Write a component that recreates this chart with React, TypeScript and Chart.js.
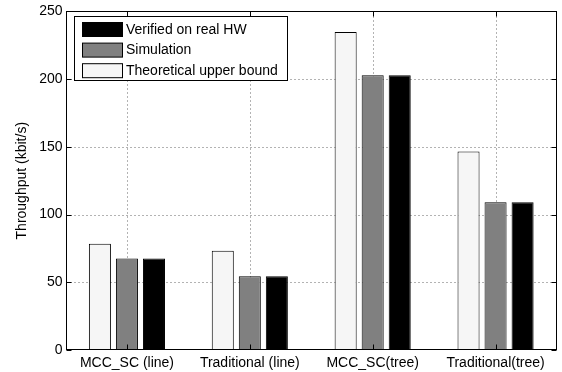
import React, { useEffect, useRef } from 'react';
import { Chart, registerables } from 'chart.js';

Chart.register(...registerables);

const categories = ['MCC_SC (line)', 'Traditional (line)', 'MCC_SC(tree)', 'Traditional(tree)'];
const theoreticalValues = [78.4, 73.3, 234.8, 146.6];
const simulationValues = [67.6, 54.4, 202.9, 109];
const verifiedValues = [67.6, 54.4, 202.9, 109];
const seriesLabels = ['Theoretical upper bound', 'Simulation', 'Verified on real HW'];
const yTickValues = [0, 50, 100, 150, 200, 250];
const yAxisTitle = 'Throughput (kbit/s)';

const FONT = '"Liberation Sans", Arial, Helvetica, sans-serif';

function edges(chart: any) {
  const { left, right, top, bottom } = chart.chartArea;
  return {
    L: Math.round(left) + 0.5,
    R: Math.round(right) - 0.5,
    T: Math.round(top) + 0.5,
    B: Math.round(bottom) - 0.5,
  };
}

const gridPlugin = {
  id: 'matlabGrid',
  beforeDatasetsDraw(chart: any) {
    const { ctx } = chart;
    const { L, R, T, B } = edges(chart);
    const ys = chart.scales.y;
    const xs = chart.scales.x;
    ctx.save();
    ctx.strokeStyle = 'rgba(0,0,0,0.6)';
    ctx.lineWidth = 1;
    ctx.setLineDash([1, 3]);
    ctx.beginPath();
    yTickValues.forEach((v) => {
      const py = Math.round(ys.getPixelForValue(v)) + 0.5;
      if (py <= T + 1 || py >= B - 1) return;
      ctx.moveTo(L, py); ctx.lineTo(R, py);
    });
    categories.forEach((_, i) => {
      const px = Math.round(xs.getPixelForValue(i)) + 0.5;
      ctx.moveTo(px, B); ctx.lineTo(px, T);
    });
    ctx.stroke();
    ctx.restore();
  },
};

const framePlugin = {
  id: 'matlabFrame',
  afterDatasetsDraw(chart: any) {
    const { ctx } = chart;
    const { L, R, T, B } = edges(chart);
    ctx.save();
    ctx.strokeStyle = '#000';
    ctx.lineWidth = 1;
    ctx.setLineDash([]);
    ctx.strokeRect(L, T, R - L, B - T);
    const tl = 5;
    const ys = chart.scales.y;
    const xs = chart.scales.x;
    ctx.beginPath();
    yTickValues.forEach((v) => {
      const py = Math.round(ys.getPixelForValue(v)) + 0.5;
      ctx.moveTo(L, py); ctx.lineTo(L + tl, py);
      ctx.moveTo(R, py); ctx.lineTo(R - tl, py);
    });
    categories.forEach((_, i) => {
      const px = Math.round(xs.getPixelForValue(i)) + 0.5;
      ctx.moveTo(px, B); ctx.lineTo(px, B - tl);
      ctx.moveTo(px, T); ctx.lineTo(px, T + tl);
    });
    ctx.stroke();

    // legend (reversed order, inside plot)
    const bx = 74.5, by = 16.5, bw = 213, bh = 64;
    ctx.fillStyle = '#fff';
    ctx.fillRect(bx, by, bw, bh);
    ctx.strokeRect(bx, by, bw, bh);
    const ds = chart.data.datasets.slice().reverse();
    ctx.font = '14px ' + FONT;
    ctx.textBaseline = 'middle';
    ctx.textAlign = 'left';
    ds.forEach((d: any, i: number) => {
      const sy = 22.5 + i * 20.6;
      ctx.fillStyle = d.backgroundColor;
      ctx.fillRect(82.5, sy, 40, 14);
      ctx.strokeStyle = '#000';
      ctx.strokeRect(82.5, sy, 40, 14);
      ctx.fillStyle = '#000';
      ctx.fillText(d.label, 126, sy + 7.5);
    });
    ctx.restore();
  },
};

export default function App() {
  const ref = useRef<HTMLCanvasElement | null>(null);
  useEffect(() => {
    if (!ref.current) return;
    const chart = new Chart(ref.current, {
      type: 'bar',
      data: {
        labels: categories,
        datasets: [
          { label: seriesLabels[0], data: theoreticalValues, backgroundColor: '#f6f6f6', borderColor: '#000', borderWidth: 1 },
          { label: seriesLabels[1], data: simulationValues, backgroundColor: '#808080', borderColor: '#000', borderWidth: 1 },
          { label: seriesLabels[2], data: verifiedValues, backgroundColor: '#000000', borderColor: '#000', borderWidth: 1 },
        ],
      },
      options: {
        responsive: false,
        animation: false,
        devicePixelRatio: 1,
        layout: { padding: { top: 10, right: 5, left: 0, bottom: 0 } },
        datasets: { bar: { categoryPercentage: 0.66, barPercentage: 0.815 } },
        plugins: { legend: { display: false }, tooltip: { enabled: false } },
        scales: {
          x: {
            offset: true,
            grid: { display: false, drawTicks: false },
            border: { display: false },
            ticks: { color: '#000', font: { family: FONT, size: 14 }, padding: 5, maxRotation: 0, autoSkip: false },
            afterFit(scale: any) { scale.height = 22; },
          },
          y: {
            min: 0,
            max: 250,
            afterBuildTicks(scale: any) { scale.ticks = yTickValues.map((v) => ({ value: v })); },
            grid: { display: false, drawTicks: false },
            border: { display: false },
            ticks: { color: '#000', font: { family: FONT, size: 14 }, padding: 3 },
            title: { display: true, text: yAxisTitle, color: '#000', font: { family: FONT, size: 14 }, padding: { top: 14, bottom: 0 } },
            afterFit(scale: any) { scale.width = 65.5; },
          },
        },
      },
      plugins: [gridPlugin, framePlugin],
    });
    return () => chart.destroy();
  }, []);
  return (
    <div style={{ position: 'fixed', left: 0, top: 0, width: 562, height: 372, background: '#fff' }}>
      <canvas ref={ref} width={562} height={372} style={{ display: 'block', width: 562, height: 372 }} />
    </div>
  );
}
